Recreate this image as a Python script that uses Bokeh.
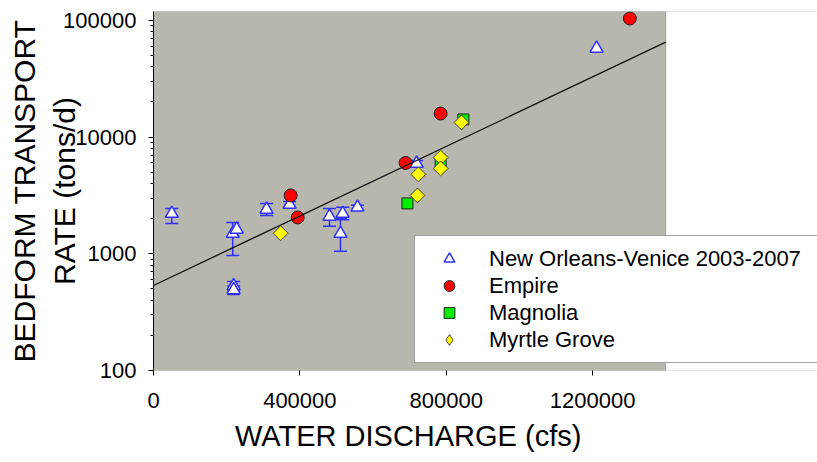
import math
from bokeh.plotting import figure
from bokeh.models import (Range1d, FixedTicker, PrintfTickFormatter, Whisker, TeeHead,
                          ColumnDataSource, Legend, LegendItem, Title, BoxAnnotation)
from bokeh.embed import file_html
from bokeh.resources import INLINE

# ---------------- data ----------------
# New Orleans-Venice 2003-2007 (value with lower / upper error bar)
nov_x = [50000, 216500, 227500, 219000, 219000, 309000, 372000, 481000, 517000, 511000, 557500, 719000, 1211000]
nov_y = [2210, 1490, 1615, 530, 490, 2400, 2640, 2090, 2210, 1490, 2500, 5940, 57400]
nov_lo = [1820, 966, 1615, 480, 448, 2130, 2500, 1720, 1960, 1050, 2400, 5600, 57400]
nov_hi = [2440, 1853, 1615, 580, 530, 2700, 2800, 2440, 2500, 2000, 2600, 6300, 57400]

emp_x = [374800, 394000, 689000, 784800, 1302000]
emp_y = [3160, 2047, 6000, 15900, 103700]

mag_x = [694000, 784800, 847000]
mag_y = [2700, 6050, 14150]

myr_x = [347500, 721500, 724000, 784800, 784800, 841700]
myr_y = [1500, 3160, 4790, 6680, 5380, 13340]

# regression line: y = fit_a * 10**(fit_b * x)
fit_a = 535.0
fit_b = 1.489e-6
fit_x = [0, 1400000]

x_min, x_max = 0, 1400000
y_min, y_max = 100, 119000
x_ticks = [0, 400000, 800000, 1200000]
y_ticks = [100, 1000, 10000, 100000]
y_minor = [m * d for d in (100, 1000, 10000) for m in range(2, 10)]

x_label = "WATER DISCHARGE (cfs)"
y_label_1 = "BEDFORM TRANSPORT"
y_label_2 = "RATE (tons/d)"

series_names = ["New Orleans-Venice 2003-2007", "Empire", "Magnolia", "Myrtle Grove"]

FONT = "Liberation Sans"

# ---------------- layout ----------------
W, H = 817, 462
LEFT, TOP, BOTTOM = 152, 11, 92
PLOT_W = 513                      # width of the grey plotting area
FRAME_W = W - LEFT                # frame runs to the right edge so the legend can overhang
x_end = x_min + (x_max - x_min) * FRAME_W / PLOT_W

p = figure(width=W, height=H,
           x_range=Range1d(x_min, x_end), y_range=Range1d(y_min, y_max),
           y_axis_type="log", output_backend="svg", toolbar_location=None,
           min_border_left=LEFT, min_border_right=0, min_border_top=TOP, min_border_bottom=BOTTOM)

p.background_fill_color = "#b8b7ad"
p.border_fill_color = "white"
p.outline_line_color = None
p.xgrid.visible = False
p.ygrid.visible = False

# white area right of the plotting region, and the plotting region's border
p.add_layout(BoxAnnotation(left=x_max, fill_color="white", fill_alpha=1.0,
                           line_color=None, level="underlay"))
p.add_layout(BoxAnnotation(right=x_max, fill_alpha=0.0, line_color="#333333",
                           line_width=1, level="overlay"))

p.xaxis.ticker = FixedTicker(ticks=x_ticks, minor_ticks=[])
p.yaxis.ticker = FixedTicker(ticks=y_ticks, minor_ticks=y_minor)
p.xaxis.formatter = PrintfTickFormatter(format="%d")
p.yaxis.formatter = PrintfTickFormatter(format="%d")

for ax in (p.xaxis[0], p.yaxis[0]):
    ax.axis_line_color = "black"
    ax.major_tick_line_color = "black"
    ax.minor_tick_line_color = "black"
    ax.major_tick_out = 5
    ax.major_tick_in = 0
    ax.minor_tick_out = 3
    ax.minor_tick_in = 0
    ax.major_label_text_font = FONT
    ax.major_label_text_font_size = "22px"
    ax.major_label_text_color = "black"
    ax.axis_label_text_font = FONT
    ax.axis_label_text_font_size = "30px"
    ax.axis_label_text_font_style = "normal"
    ax.axis_label_text_color = "black"

p.xaxis.axis_line_color = None    # drawn by the border box
p.xaxis.major_label_standoff = 17

# x label centred under the grey plotting region
x_label_w = 350
p.add_layout(Title(text=x_label, align="left", offset=(PLOT_W - x_label_w) / 2, standoff=14,
                   text_font=FONT, text_font_size="29px", text_font_style="normal",
                   text_color="black"), "below")

p.yaxis.major_label_standoff = 12
p.yaxis.axis_label = y_label_2
p.yaxis.axis_label_standoff = -21
p.add_layout(Title(text=y_label_1, align="center", standoff=10, text_font=FONT,
                   text_font_size="30px", text_font_style="normal", text_color="black"), "left")

# error bars
idx = [i for i in range(len(nov_x)) if nov_hi[i] > nov_lo[i]]
err_src = ColumnDataSource(dict(x=[nov_x[i] for i in idx],
                                lower=[nov_lo[i] for i in idx],
                                upper=[nov_hi[i] for i in idx]))
BLUE = "#3030ff"
p.add_layout(Whisker(source=err_src, base="x", lower="lower", upper="upper", dimension="height",
                     line_color=BLUE, line_width=1.5, level="underlay",
                     upper_head=TeeHead(size=13, line_color=BLUE, line_width=1.5),
                     lower_head=TeeHead(size=13, line_color=BLUE, line_width=1.5)))

r_nov = p.scatter(nov_x, nov_y, marker="triangle", size=13, fill_color="white",
                  line_color=BLUE, line_width=1.5)
r_emp = p.scatter(emp_x, emp_y, marker="circle", size=13, fill_color="#ff0000",
                  line_color="#222222", line_width=1)

fit_y = [fit_a * 10 ** (fit_b * x) for x in fit_x]
p.line(fit_x, fit_y, line_color="#111111", line_width=1.3)

r_mag = p.scatter(mag_x, mag_y, marker="square", size=11, fill_color="#00ee00",
                  line_color="#222222", line_width=1)
# diamond key for the legend (legend markers are never rotated); sits under the rotated squares
r_myr_key = p.scatter(myr_x, myr_y, marker="diamond", size=9, fill_color="#ffff00",
                      line_color="#444444", line_width=1)
r_myr = p.scatter(myr_x, myr_y, marker="square", angle=math.pi / 4, size=10.5,
                  fill_color="#ffff00", line_color="#444444", line_width=1)

legend = Legend(items=[LegendItem(label=series_names[0], renderers=[r_nov]),
                       LegendItem(label=series_names[1], renderers=[r_emp]),
                       LegendItem(label=series_names[2], renderers=[r_mag]),
                       LegendItem(label=series_names[3], renderers=[r_myr_key])],
                location=(261, 7), orientation="vertical",
                label_text_font=FONT, label_text_font_size="22px", label_text_color="black",
                glyph_width=50, glyph_height=27, label_height=27, label_width=345,
                label_standoff=15, spacing=0, padding=9, margin=0,
                border_line_color="#444444", border_line_width=1,
                background_fill_color="white", background_fill_alpha=1.0)
p.add_layout(legend)

open("out.html", "w").write(file_html(p, INLINE))
